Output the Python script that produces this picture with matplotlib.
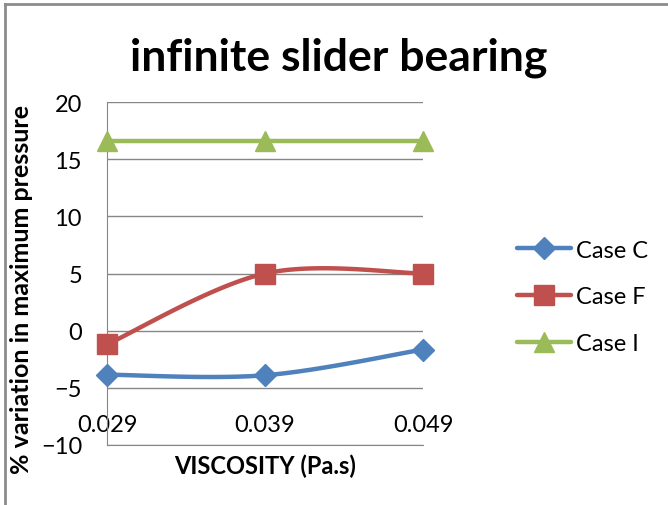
import numpy as np
import matplotlib.pyplot as plt
from matplotlib.lines import Line2D

viscosity = ['0.029', '0.039', '0.049']
case_c = [-3.85, -3.9, -1.65]
case_f = [-1.2, 5.0, 5.0]
case_i = [16.6, 16.6, 16.6]

series = [('Case C', case_c, '#4F81BD', 'D', 11),
          ('Case F', case_f, '#C0504D', 's', 14),
          ('Case I', case_i, '#9BBB59', '^', 15)]

plt.rcParams['font.family'] = ['Lato', 'DejaVu Sans']


def smooth(y, n=40):
    # Excel style smoothed line: cubic bezier between points, tangent from neighbours
    x = np.arange(len(y), dtype=float)
    y = np.asarray(y, dtype=float)
    pts = np.column_stack([x, y])
    out = []
    for i in range(len(pts) - 1):
        p0 = pts[max(i - 1, 0)]
        p1 = pts[i]
        p2 = pts[i + 1]
        p3 = pts[min(i + 2, len(pts) - 1)]
        c1 = p1 + (p2 - p0) / 6
        c2 = p2 - (p3 - p1) / 6
        t = np.linspace(0, 1, n)[:, None]
        seg = ((1 - t) ** 3 * p1 + 3 * (1 - t) ** 2 * t * c1
               + 3 * (1 - t) * t ** 2 * c2 + t ** 3 * p2)
        out.append(seg)
    seg = np.vstack(out)
    return seg[:, 0], seg[:, 1]


fig = plt.figure(figsize=(6.68, 5.06), dpi=100)
ax = fig.add_axes([107 / 668, 60 / 506, 316 / 668, 343 / 506])

xpos = np.arange(len(viscosity))
handles = []
for name, vals, col, mk, ms in series:
    sx, sy = smooth(vals)
    ax.plot(sx, sy, color=col, lw=3.2, solid_capstyle='round', zorder=3,
            clip_on=False)
    ax.plot(xpos, vals, ls='none', marker=mk, ms=ms, color=col, zorder=4,
            clip_on=False)
    handles.append(Line2D([0], [0], color=col, lw=3.2, marker=mk, ms=ms,
                          solid_capstyle='round'))

ax.set_xlim(0, 2)
ax.set_ylim(-10, 20)
ax.set_yticks(range(-10, 21, 5))
ax.yaxis.grid(True, color='#868686', lw=1)
ax.set_axisbelow(True)
ax.set_xticks(xpos)
ax.set_xticklabels(viscosity)
ax.tick_params(axis='both', length=0, labelsize=17)
ax.tick_params(axis='y', pad=18)
ax.tick_params(axis='x', pad=-22)
for side in ['top', 'right']:
    ax.spines[side].set_visible(False)
for side in ['left', 'bottom']:
    ax.spines[side].set_color('#868686')
ax.set_xlabel('VISCOSITY (Pa.s)', fontsize=17, fontweight='bold', labelpad=6)

fig.text(22 / 668, 1 - 290 / 506, '% variation in maximum pressure', rotation=90,
         ha='center', va='center', fontsize=18, fontweight='bold')
fig.text(339 / 668, 1 - 58 / 506, 'infinite slider bearing', ha='center', va='center',
         fontsize=32, fontweight='bold')

fig.legend(handles, [s[0] for s in series], loc='center left',
           bbox_to_anchor=(517 / 668, 1 - 298 / 506), frameon=False,
           borderpad=0, borderaxespad=0,
           fontsize=17, handlelength=2.3, handletextpad=0.2, labelspacing=1.1)

# chart frame
fig.add_artist(Line2D([5 / 668, 5 / 668], [0, 1 - 5 / 506], color='#8c8c8c', lw=2))
fig.add_artist(Line2D([5 / 668, 1], [1 - 5 / 506, 1 - 5 / 506], color='#8c8c8c', lw=2))

fig.savefig('out.png', dpi=100)
